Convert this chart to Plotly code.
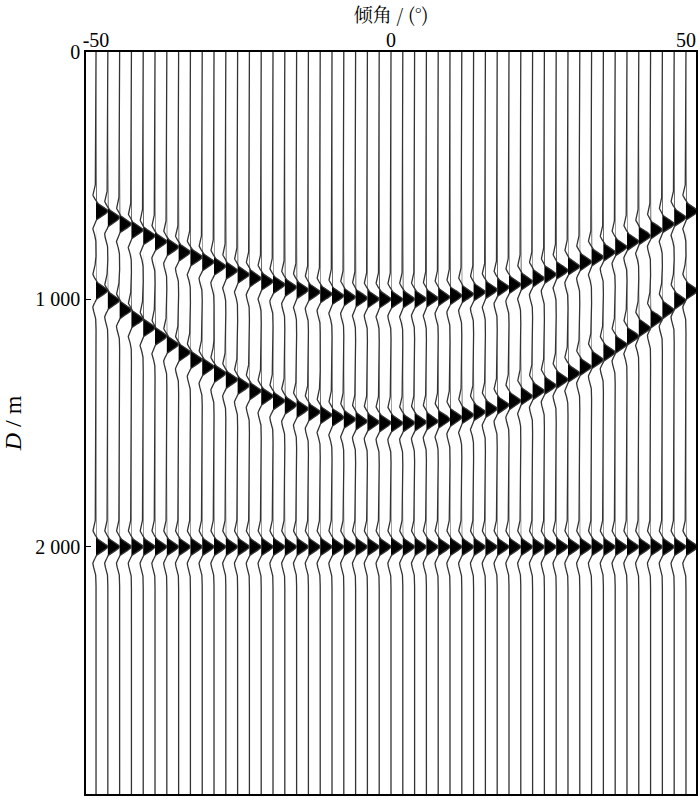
import numpy as np
import plotly.graph_objects as go

# Trace positions (dip angle, degrees)
angles = [-50, -48, -46, -44, -42, -40, -38, -36, -34, -32, -30, -28, -26, -24, -22, -20,
          -18, -16, -14, -12, -10, -8, -6, -4, -2, 0, 2, 4, 6, 8, 10, 12, 14, 16, 18, 20,
          22, 24, 26, 28, 30, 32, 34, 36, 38, 40, 42, 44, 46, 48, 50]

# Event depths (m) read per trace
event1 = [643, 669, 695, 719, 743, 766, 788, 809, 829, 848, 866, 883, 899, 914, 927, 940,
          951, 961, 970, 978, 985, 990, 995, 998, 999, 1000, 999, 998, 995, 990, 985, 978,
          970, 961, 951, 940, 927, 914, 899, 883, 866, 848, 829, 809, 788, 766, 743, 719,
          695, 669, 643]
event2 = [964, 1004, 1042, 1079, 1115, 1149, 1182, 1214, 1244, 1272, 1299, 1324, 1348, 1370,
          1391, 1410, 1427, 1442, 1455, 1467, 1477, 1485, 1492, 1496, 1499, 1500, 1499, 1496,
          1492, 1485, 1477, 1467, 1455, 1442, 1427, 1410, 1391, 1370, 1348, 1324, 1299, 1272,
          1244, 1214, 1182, 1149, 1115, 1079, 1042, 1004, 964]
event3 = [2000] * 51

x_tickvals = [-50, 0, 50]
x_ticktext = ["-50", "0", "50"]
y_tickvals = [0, 1000, 2000]
y_ticktext = ["0", "1 000", "2 000"]

# wiggle rendering
depth = np.arange(0, 3000.5, 2.0)
half = 40.0
a = 1.0 / (2 * half ** 2)
amp = 1.95


def wavelet(t):
    r = (1 - 2 * a * t ** 2) * np.exp(-a * t ** 2)
    return np.sign(r) * np.abs(r) ** 1.6


lx, ly, fx, fy = [], [], [], []
for i, th in enumerate(angles):
    w = np.zeros_like(depth)
    for ev in (event1, event2, event3):
        w += wavelet(depth - ev[i])
    xs = th + amp * w
    lx += list(xs) + [None]
    ly += list(depth) + [None]
    pos = th + amp * np.clip(w, 0, None)
    fx += list(pos) + [th] * len(depth) + [None]
    fy += list(depth) + list(depth[::-1]) + [None]

fig = go.Figure()
fig.add_trace(go.Scatter(x=fx, y=fy, mode="lines", fill="toself", fillcolor="black",
                         line=dict(width=0, color="black"), hoverinfo="skip", showlegend=False))
fig.add_trace(go.Scatter(x=lx, y=ly, mode="lines", line=dict(width=1.3, color="#333"),
                         hoverinfo="skip", showlegend=False))

font = "Liberation Serif, Times New Roman, serif"
fig.update_layout(
    width=700, height=798,
    margin=dict(l=86, r=2, t=52, b=2),
    plot_bgcolor="white", paper_bgcolor="white",
    font=dict(family=font, size=20, color="black"),
    xaxis=dict(side="top", range=[-51.7, 51.7], tickvals=x_tickvals, ticktext=x_ticktext,
               showgrid=False, zeroline=False, showline=True, mirror=True,
               linecolor="black", linewidth=1.5, ticks="", ticklabelstandoff=-5,
               title=dict(text="倾角 / (°)", standoff=2,
                          font=dict(family="Noto Serif CJK SC, Noto Sans CJK SC, " + font, size=19))),
    yaxis=dict(range=[3000, 0], tickvals=y_tickvals, ticktext=y_ticktext,
               showgrid=False, zeroline=False, showline=True, mirror=True,
               linecolor="black", linewidth=1.5, ticks="inside", ticklen=5, tickcolor="black",
               title=dict(text="<i>D</i> / m", standoff=8)),
)

fig.write_html("out.html", config={"displayModeBar": False},
               post_script="document.body.style.margin='0';document.body.style.padding='0';")
